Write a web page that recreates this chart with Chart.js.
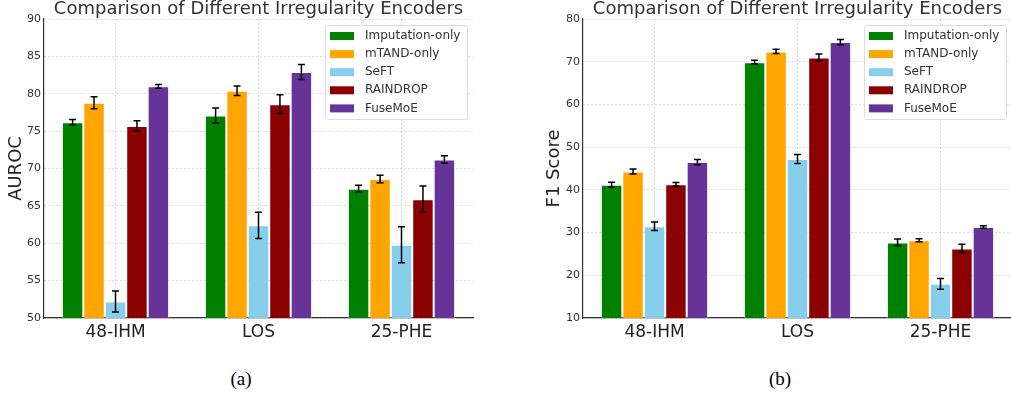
<!DOCTYPE html>
<html>
<head>
<meta charset="utf-8">
<script src="https://cdn.jsdelivr.net/npm/chart.js@4"></script>
<style>
  html, body { margin: 0; padding: 0; background: #fff; overflow: hidden; }
  body { width: 1011px; height: 398px; position: relative; }
  .panel { position: absolute; top: 0; }
  .cap { position: absolute; top: 368px; font-family: "Liberation Serif", serif; font-size: 19px; color: #000; transform: translateX(-50%); }
</style>
</head>
<body>
<div class="panel" style="left:0; width:500px; height:345px;"><canvas id="aurocChart"></canvas></div>
<div class="panel" style="left:540px; width:480px; height:345px;"><canvas id="f1Chart"></canvas></div>
<div class="cap" style="left:241px;">(a)</div>
<div class="cap" style="left:780px;">(b)</div>
<script>
const categories = ['48-IHM', 'LOS', '25-PHE'];
const methods = ['Imputation-only', 'mTAND-only', 'SeFT', 'RAINDROP', 'FuseMoE'];
const colors = ['#008000', '#FFA500', '#87CEEB', '#8B0000', '#663399'];

// AUROC (one row per method, one value per task)
const aurocMean = [
    [76.2, 77.1, 67.3],
    [78.8, 80.4, 68.6],
    [52.2, 62.4, 59.8],
    [75.7, 78.6, 65.9],
    [81.0, 82.9, 71.2]
];
const aurocErr = [
    [0.35, 1.0, 0.45],
    [0.8, 0.65, 0.5],
    [1.4, 1.75, 2.4],
    [0.7, 1.25, 1.75],
    [0.25, 1.0, 0.5]
];

// F1 score
const f1Mean = [
    [41.2, 69.9, 27.7],
    [44.3, 72.4, 28.2],
    [31.5, 47.2, 18.0],
    [41.3, 71.0, 26.3],
    [46.5, 74.6, 31.3]
];
const f1Err = [
    [0.6, 0.45, 0.8],
    [0.6, 0.5, 0.35],
    [1.0, 1.05, 1.25],
    [0.4, 0.8, 0.95],
    [0.6, 0.6, 0.3]
];

const gridColor = 'rgba(0,0,0,0.15)';

// error bars drawn from the y scale
const errorBars = {
    id: 'errorBars',
    afterDatasetsDraw(chart) {
        const ctx = chart.ctx;
        const yScale = chart.scales.y;
        ctx.save();
        ctx.strokeStyle = '#000';
        ctx.lineWidth = 1.5;
        chart.data.datasets.forEach((ds, i) => {
            chart.getDatasetMeta(i).data.forEach((bar, j) => {
                const v = ds.data[j], e = ds.errors[j];
                const top = yScale.getPixelForValue(v + e);
                const bot = yScale.getPixelForValue(v - e);
                ctx.beginPath();
                ctx.moveTo(bar.x, top); ctx.lineTo(bar.x, bot);
                ctx.moveTo(bar.x - 3.5, top); ctx.lineTo(bar.x + 3.5, top);
                ctx.moveTo(bar.x - 3.5, bot); ctx.lineTo(bar.x + 3.5, bot);
                ctx.stroke();
            });
        });
        ctx.restore();
    }
};

// legend box in the upper right of the plot
const boxLegend = {
    id: 'boxLegend',
    afterDraw(chart) {
        const ctx = chart.ctx;
        const area = chart.chartArea;
        const x0 = area.right - 148, y0 = area.top + 6, w = 142, h = 94;
        ctx.save();
        ctx.fillStyle = 'rgba(255,255,255,0.85)';
        ctx.strokeStyle = '#dddddd';
        ctx.lineWidth = 1;
        ctx.beginPath();
        ctx.roundRect(x0 + 0.5, y0 + 0.5, w, h, 2);
        ctx.fill();
        ctx.stroke();
        ctx.font = '12px "DejaVu Sans"';
        ctx.textBaseline = 'middle';
        chart.data.datasets.forEach((ds, i) => {
            const cy = y0 + 11 + i * 18.1;
            ctx.fillStyle = ds.backgroundColor;
            ctx.fillRect(x0 + 5, cy - 4, 24, 8);
            ctx.fillStyle = '#333';
            ctx.fillText(ds.label, x0 + 40, cy);
        });
        ctx.restore();
    }
};

function makeChart(id, means, errs, yTitle, yMin, yMax, step, axisW, titlePad, padRight) {
    const ctx = document.getElementById(id).getContext('2d');
    return new Chart(ctx, {
        type: 'bar',
        data: {
            labels: categories,
            datasets: methods.map((m, i) => ({
                label: m,
                data: means[i],
                errors: errs[i],
                backgroundColor: colors[i],
                borderColor: 'rgba(255,255,255,0.45)',
                borderWidth: 1,
                categoryPercentage: 0.75,
                barPercentage: 1.0
            }))
        },
        options: {
            responsive: true,
            maintainAspectRatio: false,
            animation: false,
            layout: { padding: { left: 0, right: padRight, top: 0, bottom: 0 } },
            plugins: {
                legend: { display: false },
                tooltip: { enabled: false },
                title: {
                    display: true,
                    fullSize: false,
                    text: 'Comparison of Different Irregularity Encoders',
                    color: '#333',
                    font: { family: 'DejaVu Sans', size: 18, weight: 'normal', lineHeight: 1 },
                    padding: { top: 0, bottom: 1 }
                }
            },
            scales: {
                x: {
                    grid: { display: true, offset: false, color: gridColor, drawTicks: false },
                    border: { display: true, color: '#333', width: 1.2, dash: [2, 2] },
                    ticks: { color: '#222', padding: 4, font: { family: 'DejaVu Sans', size: 17 } },
                    afterFit(scale) { scale.height = 27; }
                },
                y: {
                    min: yMin,
                    max: yMax,
                    ticks: { stepSize: step, color: '#333', padding: 3, font: { family: 'DejaVu Sans', size: 11 } },
                    grid: { color: gridColor, drawTicks: false },
                    border: { display: true, color: '#333', width: 1.2, dash: [2, 2] },
                    title: {
                        display: true,
                        text: yTitle,
                        color: '#222',
                        font: { family: 'DejaVu Sans', size: 18, lineHeight: 1 },
                        padding: { top: titlePad, bottom: 0 }
                    },
                    afterFit(scale) { scale.width = axisW; }
                }
            }
        },
        plugins: [errorBars, boxLegend]
    });
}

makeChart('aurocChart', aurocMean, aurocErr, 'AUROC', 50, 90, 5, 44, 7.5, 27);
makeChart('f1Chart', f1Mean, f1Err, 'F1 Score', 10, 80, 10, 43, 5.5, 8);
</script>
</body>
</html>
